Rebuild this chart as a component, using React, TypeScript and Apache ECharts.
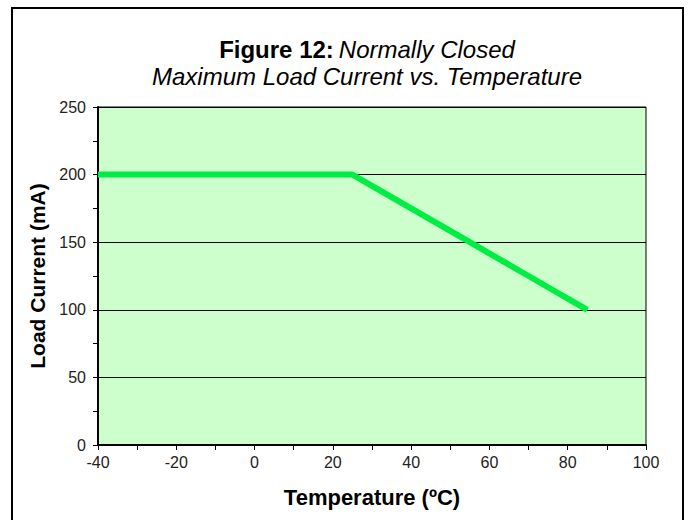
import React, { useEffect, useRef } from "react";
import * as echarts from "echarts";

const temperatures = [-40, 25, 40, 55, 70, 85];
const loadCurrent = [200, 200, 175, 150, 125, 100];
const xTicks = [-40, -20, 0, 20, 40, 60, 80, 100];
const yTicks = [0, 50, 100, 150, 200, 250];

export default function App() {
  const ref = useRef<HTMLDivElement>(null);
  useEffect(() => {
    if (!ref.current) return;
    const chart = echarts.init(ref.current, null, { renderer: "svg" });
    const font = "'Liberation Sans', Arial, sans-serif";
    chart.setOption({
      animation: false,
      backgroundColor: "#ffffff",
      textStyle: { fontFamily: font },
      graphic: [
        {
          type: "rect",
          shape: { x: 12, y: 8, width: 671, height: 530 },
          style: { fill: "none", stroke: "#000", lineWidth: 2 },
          silent: true,
        },
      ],
      title: {
        left: 362,
        textAlign: "center",
        top: 31,
        text: "{b|Figure 12:} {i|Normally Closed}\n{i|Maximum Load Current vs. Temperature}",
        textStyle: {
          fontWeight: "normal",
          rich: {
            b: { fontWeight: "bold", fontSize: 24, fontFamily: font, color: "#000", lineHeight: 27 },
            i: { fontStyle: "italic", fontWeight: "normal", fontSize: 24, fontFamily: font, color: "#000", lineHeight: 27 },
          },
        },
      },
      grid: {
        left: 98,
        right: 42,
        top: 107,
        bottom: 75,
        show: true,
        backgroundColor: "#CCFFCC",
        borderColor: "#000",
        borderWidth: 1,
      },
      xAxis: {
        type: "value",
        min: xTicks[0],
        max: xTicks[xTicks.length - 1],
        interval: 20,
        name: "Temperature (ºC)",
        nameLocation: "middle",
        nameGap: 41,
        nameTextStyle: { fontWeight: "bold", fontSize: 22, color: "#000", fontFamily: font },
        axisLine: { onZero: false, lineStyle: { color: "#000", width: 2 } },
        axisTick: { show: true, length: 5, lineStyle: { color: "#000" } },
        minorTick: { show: true, splitNumber: 2, length: 5, lineStyle: { color: "#000" } },
        axisLabel: { fontSize: 16, color: "#222", margin: 9, fontFamily: font },
        splitLine: { show: false },
      },
      yAxis: {
        type: "value",
        min: yTicks[0],
        max: yTicks[yTicks.length - 1],
        interval: 50,
        name: "Load Current (mA)",
        nameLocation: "middle",
        nameGap: 45,
        nameTextStyle: { fontWeight: "bold", fontSize: 21, color: "#000", fontFamily: font },
        axisLine: { show: true, onZero: false, lineStyle: { color: "#000", width: 2 } },
        axisTick: { show: true, length: 5, lineStyle: { color: "#000" } },
        minorTick: { show: true, splitNumber: 2, length: 5, lineStyle: { color: "#000" } },
        axisLabel: { fontSize: 16, color: "#222", margin: 12, fontFamily: font },
        splitLine: { show: true, lineStyle: { color: "#000", width: 1 } },
      },
      series: [
        {
          type: "line",
          data: temperatures.map((t, i) => [t, loadCurrent[i]]),
          showSymbol: false,
          lineStyle: { color: "#00EE44", width: 6 },
          itemStyle: { color: "#00EE44" },
        },
      ],
    });
    return () => chart.dispose();
  }, []);
  return (
    <div
      ref={ref}
      style={{ position: "fixed", left: 0, top: 0, width: 688, height: 520 }}
    />
  );
}
